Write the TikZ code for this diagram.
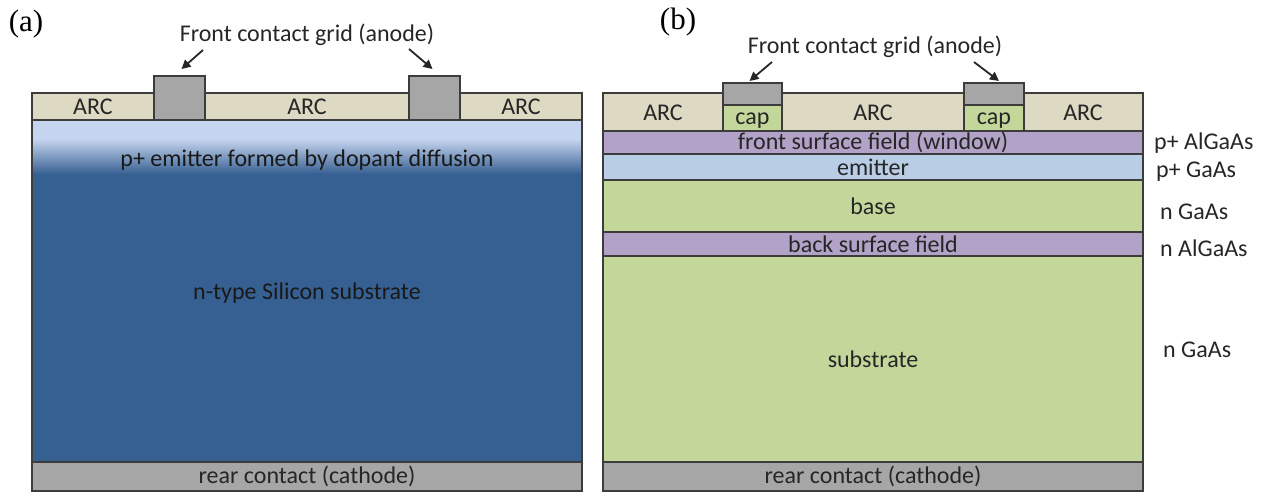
\documentclass[tikz,border=0pt]{standalone}
\usepackage{fontspec}
\setmainfont{Carlito}
\newfontfamily\serifpanel{Liberation Serif}
\usetikzlibrary{arrows.meta}

\definecolor{arcbeige}{HTML}{DDD9C3}
\definecolor{metalgray}{HTML}{A6A6A6}
\definecolor{sidark}{HTML}{376092}
\definecolor{silight}{HTML}{C6D5EF}
\definecolor{alpurple}{HTML}{B3A2C7}
\definecolor{gablue}{HTML}{B9CDE5}
\definecolor{gagreen}{HTML}{C4D79B}
\definecolor{edge}{HTML}{3C3C3C}
\definecolor{ink}{HTML}{262626}

\tikzset{
  layer/.style={draw=edge, line width=1.4pt, rectangle, anchor=north west,
    inner sep=0pt, outer sep=0pt, text=ink,
    font=\fontsize{24}{28}\selectfont},
  lbl/.style={text=ink, inner sep=0pt, font=\fontsize{24}{28}\selectfont},
  pointer/.style={draw=ink, line width=1.8pt,
    -{Triangle[length=9pt,width=9pt]}},
  tag/.style={text=black, inner sep=0pt, font=\serifpanel\fontsize{31}{34}\selectfont}
}

\begin{document}
\begin{tikzpicture}[x=1pt, y=-1pt]
\useasboundingbox (0,0) rectangle (1261,495);

% ---------------- (a) silicon cell ----------------
\node[tag] (taga) at (26,24) {(a)};

\node[layer, fill=arcbeige, minimum width=550pt, minimum height=27pt] (arcA) at (32,93) {};
\node[lbl] (arcA1) at (93,107) {ARC};
\node[lbl] (arcA2) at (307,107) {ARC};
\node[lbl] (arcA3) at (521,107) {ARC};

\node[layer, fill=metalgray, minimum width=51pt, minimum height=44pt] (gridA1) at (154,76) {};
\node[layer, fill=metalgray, minimum width=51pt, minimum height=44pt] (gridA2) at (409,76) {};

% bulk with diffused emitter on top
\node[layer, fill=sidark, minimum width=550pt, minimum height=342pt] (bulkA) at (32,120) {};
\fill[silight] (32.7,120.7) rectangle (581.3,139);
\shade[top color=silight, bottom color=sidark] (32.7,139) rectangle (581.3,174);
\draw[edge, line width=1.4pt] (32,120) rectangle (582,462);
\node[lbl, text=black!90] (emitA) at (307,160) {p+ emitter formed by dopant diffusion};
\node[lbl, text=black!90] (subA) at (307,293) {n-type Silicon substrate};

\node[layer, fill=metalgray, minimum width=550pt, minimum height=29pt] (rearA) at (32,462) {rear contact (cathode)};

\node[lbl, anchor=base] (gridlabelA) at (307,42) {Front contact grid (anode)};
\coordinate (pa1) at (203,50);
\coordinate (pa2) at (409,49);
\draw[pointer] (pa1) -- ([xshift=2pt,yshift=7pt]gridA1.north);
\draw[pointer] (pa2) -- ([xshift=-2pt,yshift=7pt]gridA2.north);

% ---------------- (b) GaAs cell ----------------
\node[tag] (tagb) at (678,22) {(b)};

\node[layer, fill=arcbeige, minimum width=540pt, minimum height=38pt] (arcB) at (603,93) {};
\node[lbl] (arcB1) at (663,113) {ARC};
\node[lbl] (arcB2) at (873,113) {ARC};
\node[lbl] (arcB3) at (1083,113) {ARC};

\node[layer, fill=metalgray, minimum width=59pt, minimum height=22pt] (gridB1) at (723,83) {};
\node[layer, fill=gagreen, minimum width=59pt, minimum height=26pt] (capB1) at (723,105) {};
\node[lbl] (capB1t) at ([yshift=-3pt]capB1.center) {cap};
\node[layer, fill=metalgray, minimum width=60pt, minimum height=22pt] (gridB2) at (964,83) {};
\node[layer, fill=gagreen, minimum width=60pt, minimum height=26pt] (capB2) at (964,105) {};
\node[lbl] (capB2t) at ([yshift=-3pt]capB2.center) {cap};

\node[layer, fill=alpurple, minimum width=540pt, minimum height=23pt] (fsf) at (603,131) {front surface field (window)};
\node[layer, fill=gablue, minimum width=540pt, minimum height=26pt] (emitB) at (603,154) {emitter};
\node[layer, fill=gagreen, minimum width=540pt, minimum height=52pt] (base) at (603,180) {base};
\node[layer, fill=alpurple, minimum width=540pt, minimum height=24pt] (bsf) at (603,232) {back surface field};
\node[layer, fill=gagreen, minimum width=540pt, minimum height=206pt] (subB) at (603,256) {substrate};
\node[layer, fill=metalgray, minimum width=540pt, minimum height=29pt] (rearB) at (603,462) {rear contact (cathode)};

\node[lbl, anchor=west] (m1) at (1154,143) {p+ AlGaAs};
\node[lbl, anchor=west] (m2) at (1156,172) {p+ GaAs};
\node[lbl, anchor=west] (m3) at (1160,212) {n GaAs};
\node[lbl, anchor=west] (m4) at (1160,248) {n AlGaAs};
\node[lbl, anchor=west] (m5) at (1163,350) {n GaAs};

\node[lbl, anchor=base] (gridlabelB) at (875,54) {Front contact grid (anode)};
\coordinate (pb1) at (772,62);
\coordinate (pb2) at (974,62);
\draw[pointer] (pb1) -- ([xshift=-3pt,yshift=2pt]gridB1.north);
\draw[pointer] (pb2) -- ([xshift=5pt,yshift=2pt]gridB2.north);
\end{tikzpicture}
\end{document}
